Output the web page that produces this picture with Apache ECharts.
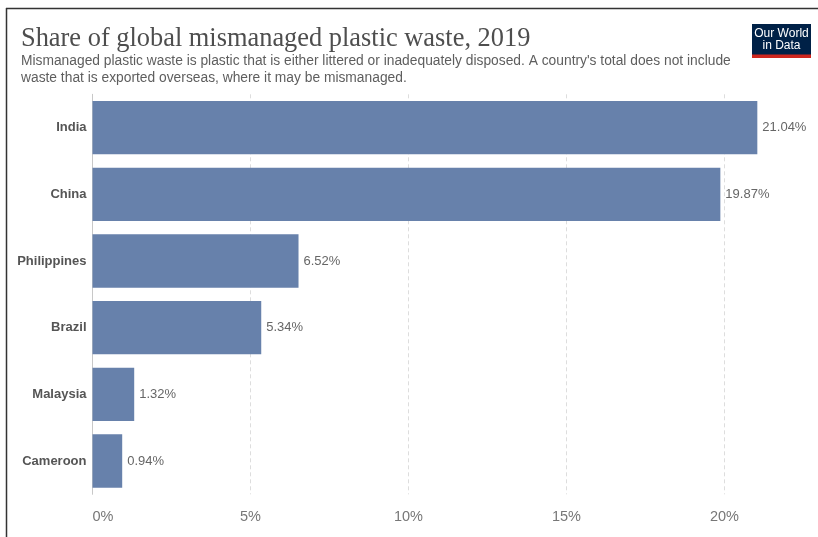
<!DOCTYPE html>
<html>
<head>
<meta charset="utf-8">
<style>
html,body{margin:0;padding:0;background:#fff;}
#chart{width:818px;height:537px;}
</style>
<script src="https://cdn.jsdelivr.net/npm/echarts@6/dist/echarts.min.js"></script>
</head>
<body>
<div id="chart"></div>
<script>
var countries = ["India", "China", "Philippines", "Brazil", "Malaysia", "Cameroon"];
var shares = [21.04, 19.87, 6.52, 5.34, 1.32, 0.94];
var titleText = "Share of global mismanaged plastic waste, 2019";
var subtitleText = "Mismanaged plastic waste is plastic that is either littered or inadequately disposed. A country's total does not include\nwaste that is exported overseas, where it may be mismanaged.";

var chart = echarts.init(document.getElementById('chart'), null, {renderer: 'canvas'});
chart.setOption({
  animation: false,
  backgroundColor: '#ffffff',
  title: {
    text: titleText,
    subtext: subtitleText,
    left: 16,
    top: 21,
    itemGap: 1,
    textStyle: {fontFamily: 'Liberation Serif', fontWeight: 'normal', fontSize: 26.4, color: '#4e4e4e'},
    subtextStyle: {fontFamily: 'Liberation Sans', fontSize: 13.8, color: '#5e5e5e', lineHeight: 17}
  },
  grid: {left: 92.5, top: 94.3, right: 17.7, height: 400, containLabel: false},
  xAxis: {
    type: 'value',
    min: 0,
    max: 22.4,
    interval: 5,
    axisLine: {show: false},
    axisTick: {show: false},
    splitLine: {show: true, showMinLine: false, showMaxLine: false, lineStyle: {color: '#dddddd', type: [4, 3], width: 1}},
    axisLabel: {
      formatter: '{value}%',
      fontFamily: 'Liberation Sans',
      fontSize: 14.5,
      color: '#777777',
      margin: 15,
      showMaxLabel: false,
      alignMinLabel: 'left'
    }
  },
  yAxis: {
    type: 'category',
    data: countries,
    inverse: true,
    axisTick: {show: false},
    axisLine: {show: true, lineStyle: {color: '#c8c8c8', width: 1}},
    axisLabel: {fontFamily: 'Liberation Sans', fontWeight: 'bold', fontSize: 13, color: '#555555', margin: 6}
  },
  series: [{
    type: 'bar',
    data: shares,
    barCategoryGap: '20%',
    itemStyle: {color: '#6781ab'},
    label: {
      show: true,
      position: 'right',
      distance: 5,
      formatter: function (p) { return p.value.toFixed(2) + '%'; },
      fontFamily: 'Liberation Sans',
      fontSize: 13,
      color: '#666666'
    }
  }],
  graphic: [
    {type: 'line', shape: {x1: 6, y1: 8.5, x2: 818, y2: 8.5}, style: {stroke: '#333333', lineWidth: 1.5}},
    {type: 'line', shape: {x1: 6.5, y1: 8, x2: 6.5, y2: 537}, style: {stroke: '#333333', lineWidth: 1.5}},
    {type: 'rect', shape: {x: 752, y: 24, width: 59, height: 34}, style: {fill: '#002147'}},
    {type: 'rect', shape: {x: 752, y: 54.5, width: 59, height: 3.5}, style: {fill: '#ce261e'}},
    {type: 'text', x: 781.5, y: 27.5, style: {text: 'Our World', fill: '#ffffff', font: '12px "Liberation Sans Narrow", "Liberation Sans", sans-serif', align: 'center', verticalAlign: 'top'}},
    {type: 'text', x: 781.5, y: 40, style: {text: 'in Data', fill: '#ffffff', font: '12px "Liberation Sans Narrow", "Liberation Sans", sans-serif', align: 'center', verticalAlign: 'top'}}
  ]
});
</script>
</body>
</html>
